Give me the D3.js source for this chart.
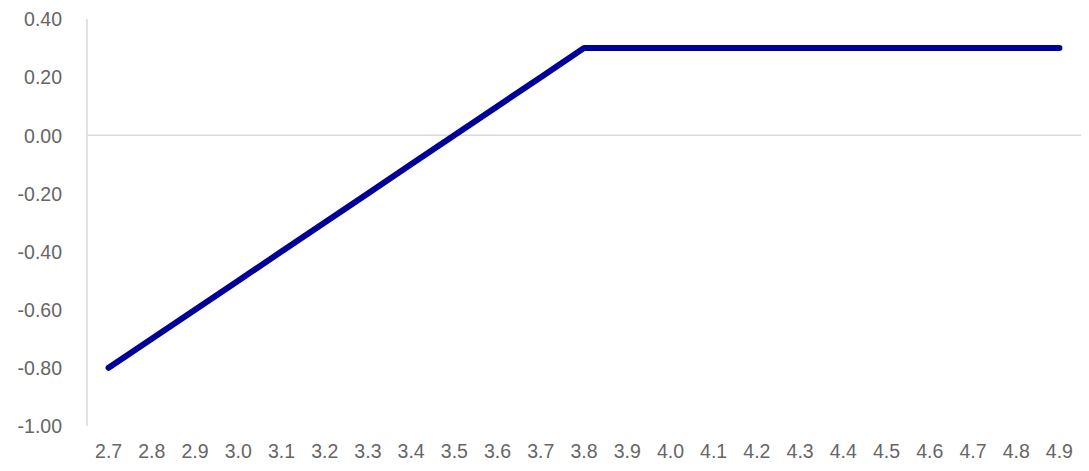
<!DOCTYPE html>
<html lang="en">
<head>
  <meta charset="utf-8">
  <script src="https://d3js.org/d3.v7.min.js"></script>
  <style>
    body { margin: 0; background: #fff; }
    .tick text { font-family: "Liberation Sans", Arial, sans-serif; font-size: 19.5px; fill: #666; }
  </style>
</head>
<body>
<script>
  // category labels along the bottom
  const categories = ["2.7","2.8","2.9","3.0","3.1","3.2","3.3","3.4","3.5","3.6","3.7","3.8",
                      "3.9","4.0","4.1","4.2","4.3","4.4","4.5","4.6","4.7","4.8","4.9"];
  // series values
  const values = [-0.8,-0.7,-0.6,-0.5,-0.4,-0.3,-0.2,-0.1,0.0,0.1,0.2,0.3,
                  0.3,0.3,0.3,0.3,0.3,0.3,0.3,0.3,0.3,0.3,0.3];
  const yTicks = [-1.0,-0.8,-0.6,-0.4,-0.2,0.0,0.2,0.4];

  const W = 1089, H = 471;
  const margin = { top: 19, right: 8, bottom: 45, left: 87 };
  const width = W - margin.left - margin.right;
  const height = H - margin.top - margin.bottom;

  const svg = d3.select("body").append("svg")
    .attr("width", W)
    .attr("height", H)
    .append("g")
    .attr("transform", "translate(" + margin.left + "," + margin.top + ")");

  const x = d3.scaleBand().domain(categories).range([0, width]);
  const y = d3.scaleLinear().domain([-1.0, 0.4]).range([height, 0]);

  // left axis line
  svg.append("line")
    .attr("x1", 0).attr("x2", 0)
    .attr("y1", y(0.4)).attr("y2", y(-1.0))
    .attr("stroke", "#d9d9d9").attr("stroke-width", 1.5);

  // zero line
  svg.append("line")
    .attr("x1", 0).attr("x2", width)
    .attr("y1", y(0)).attr("y2", y(0))
    .attr("stroke", "#d9d9d9").attr("stroke-width", 1.5);

  // y axis labels (plain hyphen for negatives, like the original)
  const fmt = d3.format(".2f");
  svg.append("g")
    .attr("transform", "translate(-25,0)")
    .call(d3.axisLeft(y).tickValues(yTicks).tickFormat(d => fmt(d).replace("\u2212", "-")).tickSize(0).tickPadding(0))
    .call(g => g.select(".domain").remove())
    .selectAll("text").attr("dy", "0.35em");

  // x axis labels
  svg.append("g")
    .attr("transform", "translate(0," + height + ")")
    .call(d3.axisBottom(x).tickSize(0).tickPadding(18))
    .call(g => g.select(".domain").remove());

  const line = d3.line()
    .x((d, i) => x(categories[i]) + x.bandwidth() / 2)
    .y(d => y(d));

  svg.append("path")
    .datum(values)
    .attr("fill", "none")
    .attr("stroke", "#000099")
    .attr("stroke-width", 6)
    .attr("stroke-linecap", "round")
    .attr("stroke-linejoin", "round")
    .attr("d", line);
</script>
</body>
</html>
